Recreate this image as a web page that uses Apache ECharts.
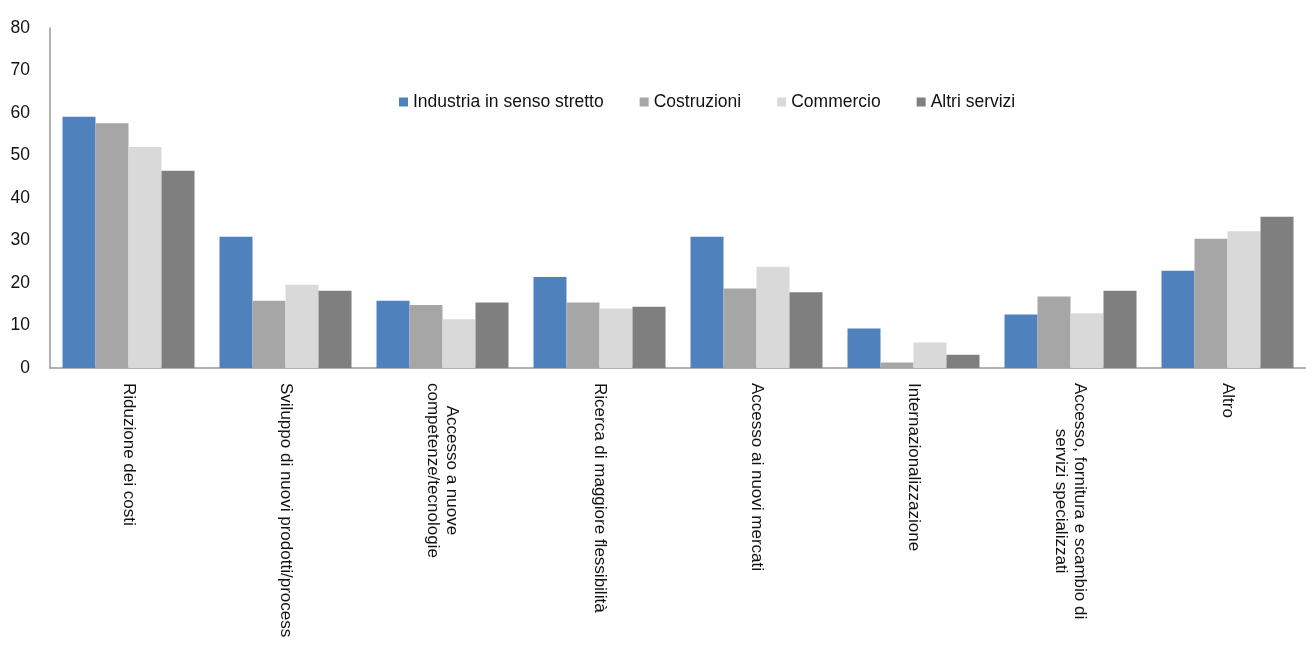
<!DOCTYPE html>
<html>
<head>
<meta charset="utf-8">
<script src="https://cdn.jsdelivr.net/npm/echarts@6/dist/echarts.min.js"></script>
<style>
  html, body { margin: 0; padding: 0; background: #fff; }
  #chart { width: 1306px; height: 645px; }
</style>
</head>
<body>
<div id="chart"></div>
<script>
// Motivazioni (%) per settore di attività
const categories = [
  'Riduzione dei costi',
  'Sviluppo di nuovi prodotti/process',
  'Accesso a nuove\ncompetenze/tecnologie',
  'Ricerca di maggiore flessibilità',
  'Accesso ai nuovi mercati',
  'Internazionalizzazione',
  'Accesso, fornitura e scambio di\nservizi specializzati',
  'Altro'
];
const seriesNames = ['Industria in senso stretto', 'Costruzioni', 'Commercio', 'Altri servizi'];
const industria   = [59.1, 30.9, 15.8, 21.4, 30.9, 9.3, 12.6, 22.9];
const costruzioni = [57.6, 15.8, 14.8, 15.4, 18.7, 1.3, 16.8, 30.4];
const commercio   = [52.0, 19.6, 11.5, 14.0, 23.8, 6.0, 12.9, 32.2];
const altriServizi = [46.4, 18.2, 15.4, 14.4, 17.8, 3.1, 18.2, 35.6];
const yTicks = { min: 0, max: 80, step: 10 };

const colors = ['#4F81BD', '#A6A6A6', '#D9D9D9', '#7F7F7F'];
const values = [industria, costruzioni, commercio, altriServizi];
const FONT = "'Liberation Sans', Arial, sans-serif";

const chart = echarts.init(document.getElementById('chart'), null, { renderer: 'canvas' });

chart.setOption({
  animation: false,
  backgroundColor: '#fff',
  textStyle: { fontFamily: FONT },
  grid: { left: 50, top: 28, width: 1264, height: 340, containLabel: false },
  legend: {
    left: 394,
    top: 88,
    itemWidth: 9,
    itemHeight: 9,
    itemGap: 36,
    icon: 'rect',
    textStyle: { fontFamily: FONT, fontSize: 17.5, color: '#111' },
    data: seriesNames
  },
  xAxis: {
    type: 'category',
    data: categories,
    axisLine: { lineStyle: { color: '#999', width: 1.5 } },
    axisTick: { show: false },
    axisLabel: {
      interval: 0,
      rotate: -90,
      margin: 15,
      formatter: v => v.split('\n').map(l => '{c|' + l + '}').join('\n'),
      rich: {
        c: { align: 'center', fontFamily: FONT, fontSize: 17, color: '#111', lineHeight: 19 }
      }
    }
  },
  yAxis: {
    type: 'value',
    min: yTicks.min,
    max: yTicks.max,
    interval: yTicks.step,
    splitLine: { show: false },
    axisLine: { show: true, lineStyle: { color: '#999', width: 1.5 } },
    axisTick: { show: false },
    axisLabel: { margin: 20, fontFamily: FONT, fontSize: 17.5, color: '#111' }
  },
  series: seriesNames.map((name, i) => ({
    name,
    type: 'bar',
    data: values[i],
    barWidth: 33,
    barGap: '0%',
    itemStyle: { color: colors[i] }
  }))
});
</script>
</body>
</html>
